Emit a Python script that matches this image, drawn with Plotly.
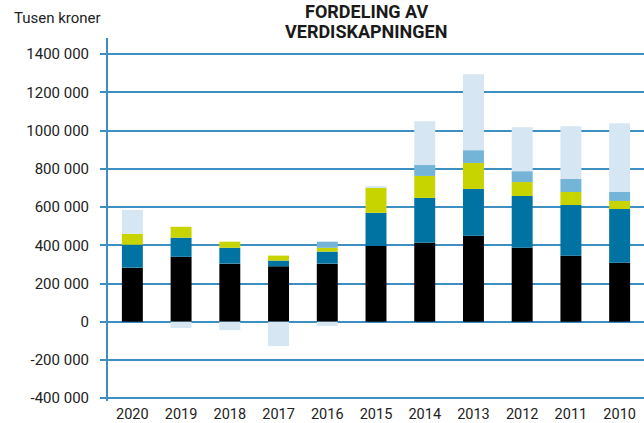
import plotly.graph_objects as go

years = ["2020", "2019", "2018", "2017", "2016", "2015", "2014", "2013", "2012", "2011", "2010"]

black_vals = [283000, 340000, 304000, 290000, 304000, 398000, 413000, 450000, 387000, 345000, 309000]
blue_vals = [120000, 100000, 83000, 30000, 63000, 172000, 235000, 245000, 271000, 266000, 281000]
yellow_vals = [57000, 57000, 32000, 26000, 20000, 130000, 115000, 136000, 73000, 68000, 42000]
lightblue_vals = [0, 0, 0, 0, 32000, 0, 57000, 67000, 57000, 68000, 47000]
pale_vals = [125000, -33000, -44000, -127000, -23000, 10000, 229000, 397000, 230000, 276000, 360000]

tick_vals = [-400000, -200000, 0, 200000, 400000, 600000, 800000, 1000000, 1200000, 1400000]
tick_text = ["-400 000", "-200 000", "0", "200 000", "400 000", "600 000", "800 000",
             "1000 000", "1200 000", "1400 000"]

series = [
    ("Svart", black_vals, "#000000"),
    ("Blå", blue_vals, "#0073a3"),
    ("Gul", yellow_vals, "#c8d400"),
    ("Lyseblå", lightblue_vals, "#74b4d6"),
    ("Blek", pale_vals, "#d6e6f3"),
]

fig = go.Figure()
for name, vals, color in series:
    fig.add_trace(go.Bar(x=years, y=vals, name=name, marker=dict(color=color, line=dict(width=0)),
                         hoverinfo="x+y"))

grid_color = "#3d8fc2"
title_font = dict(family="Roboto", size=18, color="#1a1a1a")
fig.update_layout(
    width=644, height=423,
    barmode="relative",
    bargap=0.57,
    showlegend=False,
    paper_bgcolor="white",
    plot_bgcolor="white",
    margin=dict(l=108, r=0, t=38, b=20),
    font=dict(family="Roboto", size=15, color="#222222"),
    xaxis=dict(
        type="category",
        showgrid=False,
        showline=False,
        ticks="",
        ticklabelstandoff=2,
        tickfont=dict(size=14.5, color="#222222"),
    ),
    yaxis=dict(
        range=[-415000, 1485000],
        tickvals=tick_vals,
        ticktext=tick_text,
        showgrid=True,
        gridcolor=grid_color,
        gridwidth=2,
        zeroline=False,
        showline=True,
        linecolor=grid_color,
        linewidth=2,
        ticks="outside",
        ticklen=6,
        tickwidth=2,
        tickcolor=grid_color,
        ticklabelstandoff=8,
        tickfont=dict(size=15, color="#222222"),
    ),
    annotations=[
        dict(text="Tusen kroner", xref="paper", yref="paper", x=0, xanchor="left",
             y=1, yanchor="middle", showarrow=False, font=dict(size=15, color="#222222"),
             xshift=-96, yshift=20),
        dict(text="<b>FORDELING AV</b>", x=(366 - 108) / (644 - 108), y=1,
             xref="paper", yref="paper", xanchor="center", yanchor="middle", showarrow=False,
             font=title_font, yshift=27),
        dict(text="<b>VERDISKAPNINGEN</b>", x=(366 - 108) / (644 - 108), y=1,
             xref="paper", yref="paper", xanchor="center", yanchor="middle", showarrow=False,
             font=title_font, yshift=7),
    ],
)

fig.write_html("out.html", config={"displayModeBar": False},
               post_script="document.body.style.margin='0';")
